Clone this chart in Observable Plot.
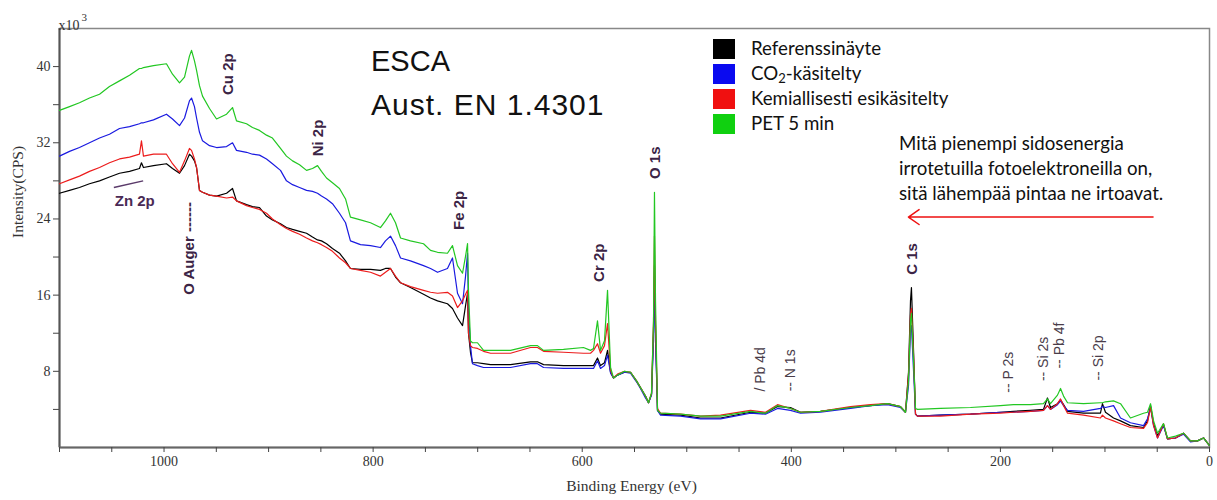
<!DOCTYPE html>
<html>
<head>
<meta charset="utf-8">
<script src="https://cdn.jsdelivr.net/npm/d3@7"></script>
<script src="https://cdn.jsdelivr.net/npm/@observablehq/plot@0.6"></script>
<style>
  html, body { margin: 0; padding: 0; background: #fff; }
  #wrap { position: relative; width: 1217px; height: 500px; overflow: hidden; }
  #wrap svg { position: absolute; left: 0; top: 0; }
  .ov { position: absolute; font-family: Lato, "Open Sans", sans-serif; color: #111; white-space: nowrap; }
  .sw { position: absolute; width: 22px; height: 20px; }
</style>
</head>
<body>
<div id="wrap"></div>
<script>
// Binding energy grid (eV)
const energy = [
  1100, 1090.4, 1080.9, 1071.3, 1061.7, 1052.2, 1042.6, 1033, 1023.5, 1021.6,
  1019.7, 1010.1, 997.7, 991.9, 985.2, 980.4, 975.7, 973.7, 970.9, 968.9,
  966.1, 963.2, 956.5, 949.8, 940.2, 934.5, 930.7, 921.1, 915.4, 908.7,
  902, 896.3, 888.6, 882.9, 877.1, 870.4, 863.7, 858, 853.2, 849.4,
  844.6, 838.9, 832.2, 826.4, 821.7, 812.1, 802.5, 793, 788.2, 783.4,
  778.6, 773.8, 764.3, 751.8, 745.1, 738.4, 728.9, 724.1, 719.3, 714.5,
  711.6, 709.7, 708.8, 706.9, 705, 700.2, 694.4, 687.7, 668.6, 649.5,
  642.8, 637, 617.9, 598.8, 592.1, 589.2, 585.4, 582.5, 578.7, 575.8,
  572.9, 570.1, 566.3, 559.6, 553.8, 548.1, 544.3, 539.5, 536.6, 533.7,
  531.8, 530.9, 529.9, 528, 525.1, 506, 486.9, 467.7, 439, 424.7,
  413.2, 400.8, 391.2, 372.1, 343.4, 324.3, 308, 295.6, 290.8, 287.9,
  286, 285.1, 283.1, 281.2, 279.3, 257.3, 228.6, 200, 187.5, 171.3,
  158.8, 155, 152.1, 145.4, 142.5, 139.6, 135.8, 120.5, 104.3, 102.4,
  99.5, 91.8, 85.1, 75.6, 63.1, 59.3, 56.4, 53.5, 49.7, 44,
  40.2, 32.5, 24.9, 18.2, 11.5, 5.7, 0
];

// Intensity (x10^3 CPS) per series
const referenceValues = [
  26.7, 27.0, 27.3, 27.7, 28.0, 28.4, 28.8, 29.0, 29.3, 29.9,
  29.4, 29.6, 29.8, 29.3, 28.8, 29.6, 30.8, 30.6, 30.1, 29.4,
  27.0, 26.8, 26.5, 26.4, 26.7, 27.2, 25.9, 25.5, 25.3, 25.2,
  24.3, 23.9, 23.5, 23.1, 22.9, 22.7, 22.5, 22.1, 21.8, 21.7,
  21.4, 20.9, 20.4, 19.6, 18.8, 18.7, 18.7, 18.6, 18.8, 18.8,
  17.9, 17.3, 16.8, 16.1, 15.7, 15.4, 15.1, 14.6, 13.6, 12.8,
  14.9, 16.2, 12.0, 10.0, 8.9, 8.9, 8.8, 8.7, 8.7, 9.0,
  9.0, 8.7, 8.6, 8.6, 8.6, 8.6, 9.4, 8.6, 8.9, 10.2,
  7.9, 7.3, 7.6, 7.9, 7.9, 7.0, 6.3, 5.4, 4.7, 5.6,
  12.3, 19.1, 12.3, 3.9, 3.5, 3.4, 3.1, 3.1, 3.7, 3.6,
  4.3, 4.2, 3.7, 3.8, 4.2, 4.4, 4.6, 4.3, 3.7, 7.9,
  15.4, 16.8, 10.2, 3.5, 3.3, 3.4, 3.5, 3.7, 3.8, 3.9,
  4.0, 5.2, 4.2, 4.6, 5.0, 4.5, 3.8, 3.6, 3.6, 4.6,
  3.7, 3.1, 2.8, 2.3, 2.1, 2.8, 4.4, 2.5, 1.2, 2.4,
  0.9, 1.0, 1.5, 0.7, 0.7, 1.0, 0.2
];
const co2Values = [
  30.6, 31.1, 31.5, 32.0, 32.5, 32.9, 33.5, 33.7, 34.0, 34.1,
  34.1, 34.4, 35.0, 34.5, 33.8, 34.6, 36.4, 36.7, 35.8, 34.6,
  33.1, 32.2, 31.7, 31.5, 31.6, 32.0, 31.2, 31.0, 30.8, 30.7,
  30.3, 29.8, 29.1, 28.0, 27.6, 27.3, 27.0, 26.9, 26.7, 26.4,
  26.1, 25.6, 24.6, 23.6, 21.7, 21.3, 21.2, 21.0, 21.7, 22.2,
  21.2, 19.9, 19.6, 19.1, 18.8, 18.4, 18.8, 19.9, 16.2, 15.1,
  18.0, 20.4, 14.4, 10.7, 8.8, 8.6, 8.4, 8.4, 8.4, 8.8,
  8.8, 8.4, 8.3, 8.3, 8.3, 8.3, 9.1, 8.3, 8.6, 9.7,
  7.8, 7.3, 7.6, 7.9, 7.8, 6.9, 6.2, 5.2, 4.7, 5.5,
  11.2, 18.0, 11.2, 3.9, 3.4, 3.3, 3.0, 3.0, 3.6, 3.5,
  4.1, 3.9, 3.6, 3.7, 4.1, 4.4, 4.5, 4.2, 3.7, 6.5,
  12.3, 12.8, 8.1, 3.5, 3.3, 3.4, 3.5, 3.7, 3.7, 3.8,
  3.9, 4.4, 4.0, 4.5, 4.9, 4.4, 3.9, 3.8, 4.1, 4.3,
  4.2, 4.4, 3.1, 2.6, 2.3, 3.0, 4.2, 2.3, 1.0, 2.3,
  0.9, 1.0, 1.4, 0.6, 0.7, 1.0, 0.2
];
const chemicalValues = [
  27.7, 28.1, 28.5, 29.0, 29.4, 29.9, 30.3, 30.5, 30.8, 32.2,
  30.6, 30.8, 30.8, 29.8, 28.9, 30.1, 31.4, 31.2, 30.3, 29.4,
  27.0, 26.8, 26.5, 26.4, 26.2, 26.3, 25.9, 25.4, 25.2, 25.0,
  24.6, 24.0, 23.4, 23.0, 22.7, 22.4, 22.0, 21.7, 21.5, 21.3,
  21.0, 20.6, 19.9, 19.4, 18.8, 18.6, 18.4, 18.0, 18.4, 18.8,
  18.0, 17.3, 16.9, 16.5, 16.3, 16.2, 16.3, 15.9, 14.7, 15.4,
  16.1, 16.5, 12.0, 10.7, 10.5, 10.4, 10.1, 9.9, 9.9, 10.5,
  10.5, 10.1, 10.0, 9.9, 9.9, 10.2, 10.9, 9.9, 10.7, 13.0,
  8.1, 7.3, 7.7, 8.0, 7.9, 7.0, 6.3, 5.4, 4.7, 5.7,
  13.3, 22.2, 13.3, 4.1, 3.6, 3.5, 3.3, 3.4, 3.9, 3.7,
  4.5, 4.1, 3.7, 3.8, 4.3, 4.5, 4.6, 4.3, 3.7, 7.6,
  13.9, 14.6, 9.7, 3.5, 3.3, 3.3, 3.5, 3.6, 3.7, 3.8,
  3.9, 4.4, 4.0, 4.6, 5.1, 4.4, 3.6, 3.4, 3.1, 3.4,
  3.1, 2.8, 2.5, 2.1, 2.0, 2.6, 4.2, 2.3, 1.0, 2.5,
  0.9, 1.0, 1.5, 0.7, 0.7, 1.0, 0.2
];
const petValues = [
  35.4, 35.8, 36.2, 36.7, 37.1, 37.9, 38.5, 39.1, 39.8, 39.8,
  39.9, 40.1, 40.3, 39.2, 38.3, 38.9, 41.1, 41.7, 40.6, 39.6,
  38.0, 36.9, 35.6, 34.5, 35.0, 35.7, 34.3, 34.0, 33.6, 33.3,
  32.8, 32.5, 31.4, 30.6, 30.1, 29.7, 29.1, 29.3, 29.6, 29.0,
  28.3, 27.8, 27.2, 26.1, 24.2, 23.9, 23.6, 23.1, 23.8, 24.6,
  23.6, 22.0, 21.7, 21.4, 20.7, 20.5, 20.4, 21.2, 19.1, 18.3,
  20.1, 21.4, 16.5, 11.2, 11.0, 11.0, 10.2, 10.2, 10.2, 10.7,
  10.7, 10.2, 10.3, 10.5, 10.2, 10.4, 13.3, 10.2, 11.2, 16.5,
  8.4, 7.3, 7.6, 8.0, 7.9, 7.0, 6.3, 5.4, 4.7, 5.7,
  13.3, 26.8, 15.4, 3.9, 3.6, 3.5, 3.3, 3.3, 3.8, 3.6,
  4.4, 4.1, 3.7, 3.8, 4.2, 4.4, 4.6, 4.3, 3.7, 7.0,
  13.3, 14.1, 9.1, 4.1, 4.0, 4.1, 4.2, 4.4, 4.5, 4.5,
  4.6, 5.1, 4.6, 5.5, 6.2, 5.4, 4.7, 4.6, 4.7, 4.7,
  4.8, 4.9, 4.6, 3.1, 3.6, 3.7, 4.6, 2.8, 1.5, 2.5,
  1.0, 1.2, 1.5, 0.7, 0.7, 1.0, 0.2
];

const seriesNames = ["Referenssinäyte", "CO₂-käsitelty", "Kemiallisesti esikäsitelty", "PET 5 min"];
const seriesColors = ["#000000", "#1a1ae0", "#ec1c1c", "#22c722"];
const legendColors = ["#000000", "#0a0af0", "#f01010", "#10d010"];

// Axis ticks
const xTicks = d3.range(0, 1101, 50);
const xTickLabels = [0, 200, 400, 600, 800, 1000];
const yTicks = [4, 8, 12, 16, 20, 24, 28, 32, 36, 40];
const yTickLabels = [8, 16, 24, 32, 40];

// Peak annotations (energy in eV, label centre in intensity units)
const peakNames = ["Cu 2p", "Ni 2p", "O Auger ------", "Fe 2p", "Cr 2p", "O 1s", "C 1s"];
const peakEnergy = [939, 853, 976, 718, 583.5, 530, 284];
const peakLabelY = [39.2, 32.5, 20.9, 24.9, 19.4, 29.9, 19.8];
const minorNames = ["/ Pb 4d", "-- N 1s", "-- P 2s", "-- Si 2s", "-- Pb 4f", "-- Si 2p"];
const minorEnergy = [429.5, 401, 192, 159, 143.5, 106];
const minorLabelY = [8.2, 8.1, 7.9, 9.3, 10.7, 9.4];
const znName = ["Zn 2p"];
const znEnergy = [1028];
const znLabelY = [25.9];
const znMarkEnergy = [1048, 1020];
const znMarkY = [27.3, 28.0];
const arrowEnergy = [54, 288];
const arrowY = [24.2];

const valueSets = [referenceValues, co2Values, chemicalValues, petValues];
const rows = [];
valueSets.forEach((vals, si) => {
  vals.forEach((v, i) => rows.push({e: energy[i], v, s: seriesNames[si]}));
});
const peaks = peakNames.map((t, i) => ({t, e: peakEnergy[i], y: peakLabelY[i]}));
const minors = minorNames.map((t, i) => ({t, e: minorEnergy[i], y: minorLabelY[i]}));
const zn = znName.map((t, i) => ({t, e: znEnergy[i], y: znLabelY[i]}));

const tickFont = "Liberation Serif, DejaVu Serif, serif";
const labelColor = "#3b2445";

const chart = Plot.plot({
  width: 1217,
  height: 500,
  marginLeft: 59,
  marginRight: 8,
  marginTop: 28,
  marginBottom: 53,
  x: {domain: [1100, 0]},
  y: {domain: [0, 44]},
  color: {domain: seriesNames, range: seriesColors},
  style: {background: "#fff", color: "#333", fontFamily: tickFont},
  marks: [
    Plot.frame({stroke: "#888", strokeWidth: 1.5}),
    Plot.ruleX([1100], {stroke: "#555", strokeWidth: 2}),
    Plot.ruleY([0], {stroke: "#666", strokeWidth: 2}),
    Plot.axisY({ticks: yTicks, tickSize: 6, tickPadding: 3, label: null,
      tickFormat: d => yTickLabels.includes(d) ? String(d) : "",
      fontSize: 14, fontFamily: tickFont, stroke: "#444", fill: "#333"}),
    Plot.axisX({ticks: xTicks, tickSize: 5, tickPadding: 4, label: null,
      tickFormat: d => xTickLabels.includes(d) ? String(d) : "",
      fontSize: 14, fontFamily: tickFont, stroke: "#444", fill: "#333"}),
    Plot.text(["Intensity(CPS)"], {frameAnchor: "left", dx: -41, rotate: -90, fontSize: 15.5, fontFamily: tickFont, fill: "#333"}),
    Plot.text(["Binding Energy (eV)"], {frameAnchor: "bottom", dx: -3, dy: 43, fontSize: 15.5, fontFamily: tickFont, fill: "#333"}),
    Plot.text(["x10"], {frameAnchor: "top-left", dy: -8, dx: -1, textAnchor: "start", fontSize: 14, fontFamily: tickFont, fill: "#333"}),
    Plot.text(["3"], {frameAnchor: "top-left", dy: -15, dx: 22, textAnchor: "start", fontSize: 11, fontFamily: tickFont, fill: "#333"}),
    Plot.line(rows, {x: "e", y: "v", z: "s", stroke: "s", strokeWidth: 1.2, curve: "linear"}),
    Plot.text(peaks, {x: "e", y: "y", text: "t", rotate: -90, fontSize: 15, fontWeight: "bold",
      fontFamily: "Liberation Sans, Arial, sans-serif", fill: labelColor}),
    Plot.text(minors, {x: "e", y: "y", text: "t", rotate: -90, fontSize: 14,
      fontFamily: "Liberation Sans, Arial, sans-serif", fill: "#4a3d4a"}),
    Plot.text(zn, {x: "e", y: "y", text: "t", fontSize: 15, fontWeight: "bold",
      fontFamily: "Liberation Sans, Arial, sans-serif", fill: "#4a2a55"}),
    Plot.link([0], {x1: () => znMarkEnergy[0], x2: () => znMarkEnergy[1], y1: () => znMarkY[0], y2: () => znMarkY[1], stroke: "#5a3a6a", strokeWidth: 1.5}),
    Plot.arrow([0], {x1: () => arrowEnergy[0], x2: () => arrowEnergy[1], y1: () => arrowY[0], y2: () => arrowY[0],
      stroke: "#ee1111", strokeWidth: 1.5, headLength: 13, headAngle: 70})
  ]
});

const wrap = document.getElementById("wrap");
wrap.appendChild(chart);

function addText(txt, left, top, size, family) {
  const d = document.createElement("div");
  d.className = "ov";
  d.textContent = txt;
  d.style.left = left + "px";
  d.style.top = top + "px";
  d.style.fontSize = size + "px";
  d.style.lineHeight = "1";
  if (family) d.style.fontFamily = family;
  wrap.appendChild(d);
  return d;
}
// Title block
addText("ESCA", 371, 47, 29, "Liberation Sans, Arial, sans-serif");
const t2 = addText("Aust. EN 1.4301", 371, 90, 30, "Liberation Sans, Arial, sans-serif");
t2.style.letterSpacing = "1px";
// Legend
seriesNames.forEach((name, i) => {
  const sw = document.createElement("div");
  sw.className = "sw";
  sw.style.left = "713px";
  sw.style.top = (39 + i * 25) + "px";
  sw.style.background = legendColors[i];
  wrap.appendChild(sw);
  const t = addText("", 751, 39 + i * 25, 18.7);
  if (i === 1) {
    t.innerHTML = "CO<span style='font-size:13px;vertical-align:-3px'>2</span>-käsitelty";
  } else {
    t.textContent = name;
  }
});
// Note text
["Mitä pienempi sidosenergia", "irrotetuilla fotoelektroneilla on,", "sitä lähempää pintaa ne irtoavat."]
  .forEach((line, i) => addText(line, 899, 134 + i * 25, 18.7));
</script>
</body>
</html>
